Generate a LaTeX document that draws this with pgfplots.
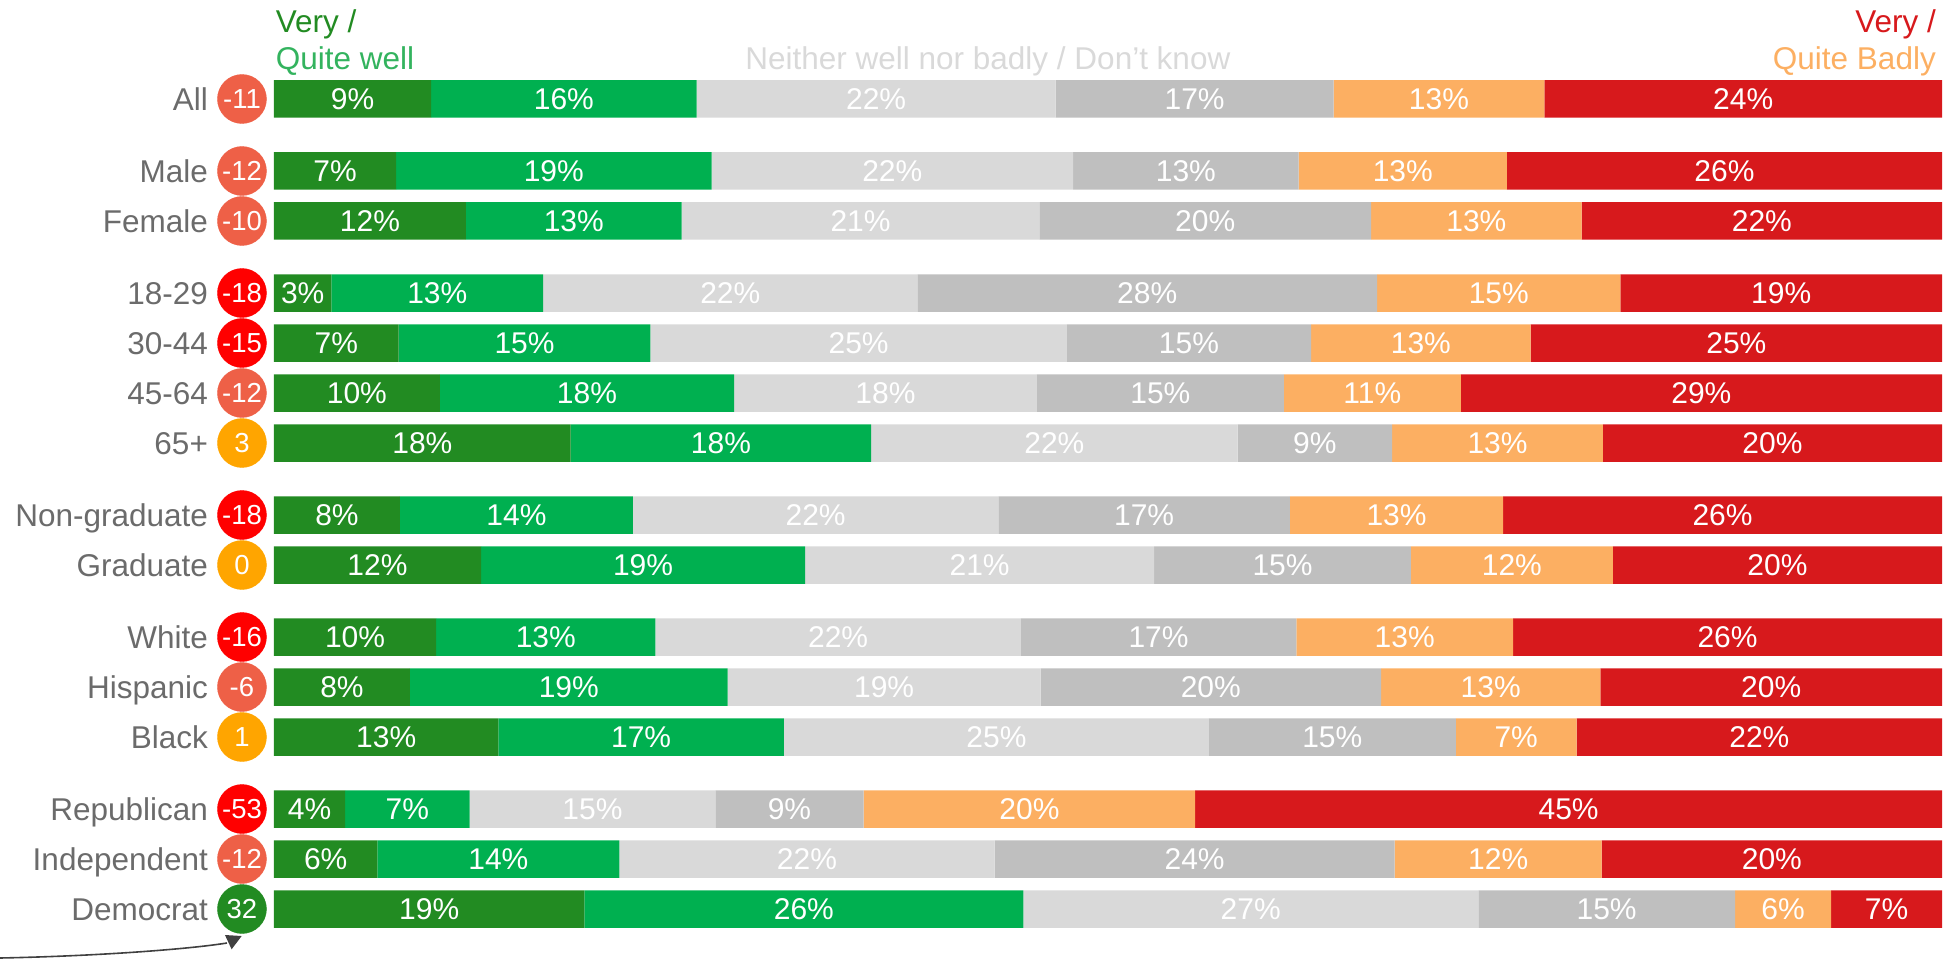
\documentclass[border=0pt]{standalone}
\usepackage{fontspec}
\setmainfont{Liberation Sans}
\usepackage{pgfplots}
\usepackage{pgfplotstable}
\pgfplotsset{compat=1.18}
\definecolor{cVW}{HTML}{228B22}
\definecolor{cQW}{HTML}{00B050}
\definecolor{cNW}{HTML}{D9D9D9}
\definecolor{cDK}{HTML}{BFBFBF}
\definecolor{cQB}{HTML}{FCAF62}
\definecolor{cVB}{HTML}{D7191C}
\definecolor{cirR}{HTML}{FF0000}
\definecolor{cirS}{HTML}{EE6047}
\definecolor{cirO}{HTML}{FFA500}
\definecolor{cirG}{HTML}{228B22}
\definecolor{labgray}{HTML}{6B6B6B}
\definecolor{arrowgray}{HTML}{404040}
\definecolor{hdrQW}{HTML}{33B35E}

\pgfplotstableread{
cat y e1 e2 e3 e4 e5 l1 l2 l3 l4 l5 l6 net cls
All 99 9.42 25.34 46.86 63.53 76.16 9 16 22 17 13 24 -11 s
Male 171 7.32 26.23 47.91 61.43 73.92 7 19 22 13 13 26 -12 s
Female 221 11.51 24.44 45.89 65.77 78.40 12 13 21 20 13 22 -10 s
18-29 293 3.44 16.14 38.57 66.14 80.72 3 13 22 28 15 19 -18 r
30-44 343 7.47 22.57 47.53 62.18 75.34 7 15 25 15 13 25 -15 r
45-64 393 9.94 27.58 45.74 60.54 71.15 10 18 18 15 11 29 -12 s
65+ 443 17.79 35.80 57.77 67.04 79.67 18 18 22 9 13 20 3 o
Non-graduate 515 7.55 21.52 43.42 60.91 73.69 8 14 22 17 13 26 -18 r
Graduate 565 12.41 31.84 52.77 68.16 80.27 12 19 21 15 12 20 0 o
White 637 9.72 22.87 44.77 61.29 74.29 10 13 22 17 13 26 -16 r
Hispanic 687 8.15 27.20 45.96 66.37 79.52 8 19 19 20 13 20 -6 s
Black 737 13.45 30.57 56.05 70.85 78.10 13 17 25 15 7 22 1 o
Republican 809 4.26 11.73 26.46 35.35 55.23 4 7 15 9 20 45 -53 r
Independent 859 6.20 20.70 43.20 67.19 79.60 6 14 22 24 12 20 -12 s
Democrat 909 18.61 44.92 72.20 87.59 93.35 19 26 27 15 6 7 32 g
}\data

\pgfplotsset{
  base/.style={scale only axis, width=1668pt, height=963pt,
    xmin=0, xmax=100, ymin=0, ymax=963, y dir=reverse,
    hide axis, clip=false},
  pct/.style={only marks, mark=*, mark size=0pt, mark options={draw=none, fill=none},
    nodes near coords={\pgfplotspointmeta\%}, point meta=explicit symbolic,
    every node near coord/.append style={anchor=base, yshift=-10.7pt, inner sep=0pt,
      text=white, font=\fontsize{30}{36}\selectfont}},
}

\begin{document}
\begin{tikzpicture}
\useasboundingbox (-274pt,0pt) rectangle (1678pt,963pt);
\begin{axis}[base, xbar stacked, bar width=37.5pt]
\addplot[fill=cVW, draw=none] table[x=e1, y=y]{\data};
\addplot[fill=cQW, draw=none] table[x expr=\thisrow{e2}-\thisrow{e1}, y=y]{\data};
\addplot[fill=cNW, draw=none] table[x expr=\thisrow{e3}-\thisrow{e2}, y=y]{\data};
\addplot[fill=cDK, draw=none] table[x expr=\thisrow{e4}-\thisrow{e3}, y=y]{\data};
\addplot[fill=cQB, draw=none] table[x expr=\thisrow{e5}-\thisrow{e4}, y=y]{\data};
\addplot[fill=cVB, draw=none] table[x expr=100-\thisrow{e5}, y=y]{\data};
\end{axis}
\begin{axis}[base]
% segment labels
\addplot[pct] table[x expr=\thisrow{e1}/2, y=y, meta=l1]{\data};
\addplot[pct] table[x expr=(\thisrow{e1}+\thisrow{e2})/2, y=y, meta=l2]{\data};
\addplot[pct] table[x expr=(\thisrow{e2}+\thisrow{e3})/2, y=y, meta=l3]{\data};
\addplot[pct] table[x expr=(\thisrow{e3}+\thisrow{e4})/2, y=y, meta=l4]{\data};
\addplot[pct] table[x expr=(\thisrow{e4}+\thisrow{e5})/2, y=y, meta=l5]{\data};
\addplot[pct] table[x expr=(\thisrow{e5}+100)/2, y=y, meta=l6]{\data};
% category labels
\addplot[only marks, mark=*, mark size=0pt, mark options={draw=none, fill=none},
  nodes near coords={\pgfplotspointmeta}, point meta=explicit symbolic,
  every node near coord/.append style={anchor=base east, yshift=-11.3pt, inner sep=0pt,
    text=labgray, font=\fontsize{31.5}{36}\selectfont}]
  table[x expr=-3.95, y=y, meta=cat]{\data};
% net circles
\addplot[scatter, only marks, point meta=explicit symbolic,
  scatter/classes={
    r={mark=*, draw=cirR, fill=cirR},
    s={mark=*, draw=cirS, fill=cirS},
    o={mark=*, draw=cirO, fill=cirO},
    g={mark=*, draw=cirG, fill=cirG}},
  mark size=24.5pt]
  table[x expr=-1.92, y=y, meta=cls]{\data};
\addplot[only marks, mark=*, mark size=0pt, mark options={draw=none, fill=none},
  point meta=explicit symbolic,
  nodes near coords={\pgfplotspointmeta},
  every node near coord/.append style={anchor=base, yshift=-9.7pt, inner sep=0pt,
    text=white, font=\fontsize{27.5}{32}\selectfont}]
  table[x expr=-1.92, y=y, meta=net]{\data};
% headers
\node[anchor=base west, inner sep=0pt, text=cVW, font=\fontsize{31.5}{36}\selectfont] at (axis cs:0.1,33) {Very /};
\node[anchor=base west, inner sep=0pt, text=hdrQW, font=\fontsize{31.5}{36}\selectfont] at (axis cs:0.1,70) {Quite well};
\node[anchor=base, inner sep=0pt, text=cNW, font=\fontsize{31.5}{36}\selectfont] at (axis cs:42.8,70) {Neither well nor badly / Don't know};
\node[anchor=base east, inner sep=0pt, text=cVB, font=\fontsize{31.5}{36}\selectfont] at (axis cs:99.64,33) {Very /};
\node[anchor=base east, inner sep=0pt, text=cQB, font=\fontsize{31.5}{36}\selectfont] at (axis cs:99.64,70) {Quite Badly};
% arrow
\draw[arrowgray, line width=1.6pt] (axis cs:-16.43,958) .. controls (axis cs:-10.43,956) and (axis cs:-5.04,949) .. (axis cs:-2.82,943);
\fill[arrowgray] (axis cs:-2.94,935) -- (axis cs:-1.94,936) -- (axis cs:-2.54,949.3) -- cycle;
\end{axis}
\end{tikzpicture}
\end{document}
